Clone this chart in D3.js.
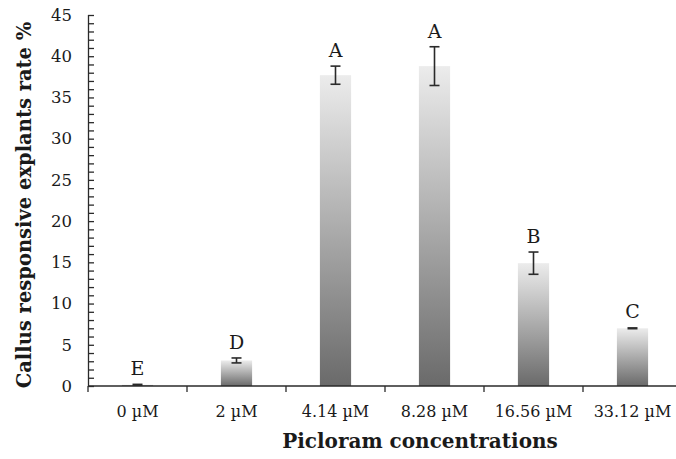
<!DOCTYPE html>
<html><head><meta charset="utf-8">
<script src="https://cdn.jsdelivr.net/npm/d3@7"></script>
<style>
html,body{margin:0;padding:0;background:#fff;}
svg text{font-family:"DejaVu Serif","Liberation Serif",serif;fill:#1a1a1a;}
</style></head>
<body>
<svg id="chart" width="676" height="459"></svg>
<script>
const categories = ["0 µM","2 µM","4.14 µM","8.28 µM","16.56 µM","33.12 µM"];
const values = [0.15, 3.1, 37.7, 38.8, 14.9, 7.0];
const errors = [0.05, 0.3, 1.1, 2.35, 1.35, 0.15];
const letters = ["E","D","A","A","B","C"];
const yTicks = [0,5,10,15,20,25,30,35,40,45];
const yTitle = "Callus responsive explants rate %";
const xTitle = "Picloram concentrations";

const svg = d3.select("#chart");
const x = d3.scaleBand().domain(categories).range([88, 682]).paddingInner(0).paddingOuter(0);
const y = d3.scaleLinear().domain([0,45]).range([386, 15]);

const defs = svg.append("defs");
const g = defs.append("linearGradient").attr("id","barGrad").attr("x1",0).attr("y1",0).attr("x2",0).attr("y2",1);
g.append("stop").attr("offset","0%").attr("stop-color","#ececec");
g.append("stop").attr("offset","100%").attr("stop-color","#6a6a6a");

const barW = x.bandwidth()*0.315;
svg.append("g").selectAll("rect").data(categories).join("rect")
  .attr("x", d => x(d) + x.bandwidth()/2 - barW/2)
  .attr("y", (d,i) => y(values[i]))
  .attr("width", barW)
  .attr("height", (d,i) => y(0) - y(values[i]))
  .attr("fill","url(#barGrad)");

// error bars
const eg = svg.append("g").attr("stroke","#2a2a2a").attr("stroke-width",1.6).attr("fill","none");
categories.forEach((c,i) => {
  const cx = x(c) + x.bandwidth()/2;
  const top = y(values[i]+errors[i]), bot = y(values[i]-errors[i]);
  if (bot - top < 3) {
    eg.append("rect").attr("x", cx-5).attr("y", (top+bot)/2-1.2).attr("width",10).attr("height",2.4)
      .attr("fill","#2a2a2a").attr("stroke","none");
  } else {
    eg.append("line").attr("x1",cx).attr("x2",cx).attr("y1",top).attr("y2",bot);
    eg.append("line").attr("x1",cx-5).attr("x2",cx+5).attr("y1",top).attr("y2",top);
    eg.append("line").attr("x1",cx-5).attr("x2",cx+5).attr("y1",bot).attr("y2",bot);
  }
  svg.append("text").attr("x",cx).attr("y",top-9).attr("text-anchor","middle")
    .style("font-size","19px").text(letters[i]);
});

// y axis
const yAxis = d3.axisRight(y).tickValues(d3.range(0,46,1)).tickSize(6).tickFormat("");
const ya = svg.append("g").attr("transform","translate(88,0)").call(yAxis);
ya.selectAll("path,line").attr("stroke","#2a2a2a").attr("stroke-width",1.3);
ya.select(".domain").attr("d", `M0.5,${y(45)}V${y(0)}`);
svg.append("g").selectAll("text").data(yTicks).join("text")
  .attr("x",72).attr("y",d=>y(d)).attr("dy","0.35em").attr("text-anchor","end")
  .style("font-size","16.5px").text(d=>d);

// x axis
const xa = svg.append("g").attr("transform",`translate(0,${y(0)})`);
xa.append("line").attr("x1",88).attr("x2",676).attr("y1",0).attr("y2",0).attr("stroke","#2a2a2a").attr("stroke-width",1.5);
const bounds = categories.map(c => x(c));
xa.selectAll("line.tk").data(bounds).join("line").attr("class","tk")
  .attr("x1",d=>d).attr("x2",d=>d).attr("y1",0).attr("y2",6).attr("stroke","#2a2a2a").attr("stroke-width",1.3);
xa.selectAll("text").data(categories).join("text")
  .attr("x",d=>x(d)+x.bandwidth()/2).attr("y",31).attr("text-anchor","middle")
  .style("font-size","16px").text(d=>d);

// titles
svg.append("text").attr("transform","translate(31,205) rotate(-90)").attr("text-anchor","middle")
  .style("font-size","19.5px").style("font-weight","bold").text(yTitle);
svg.append("text").attr("x",420).attr("y",448).attr("text-anchor","middle")
  .style("font-size","20px").style("font-weight","bold").text(xTitle);
</script>
</body></html>
